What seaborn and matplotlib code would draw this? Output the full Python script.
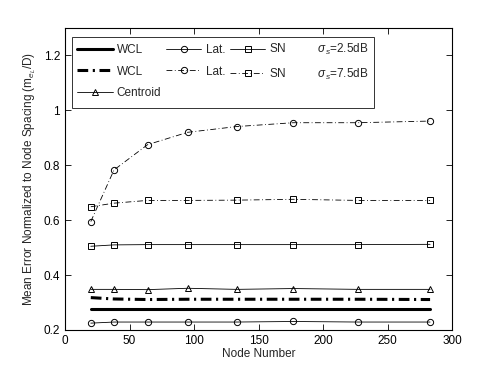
import matplotlib
matplotlib.use("Agg")
import matplotlib.pyplot as plt
from matplotlib.lines import Line2D
import seaborn as sns
import pandas as pd
import numpy as np

nodes = [20, 38, 64, 95, 133, 177, 227, 283]

wcl_25 = [0.275, 0.275, 0.275, 0.275, 0.275, 0.275, 0.275, 0.275]
lat_25 = [0.225, 0.229, 0.229, 0.229, 0.229, 0.231, 0.229, 0.229]
sn_25 = [0.505, 0.510, 0.511, 0.511, 0.511, 0.511, 0.511, 0.512]
wcl_75 = [0.318, 0.313, 0.311, 0.312, 0.312, 0.312, 0.312, 0.311]
lat_75 = [0.595, 0.783, 0.875, 0.920, 0.941, 0.955, 0.955, 0.961]
sn_75 = [0.649, 0.662, 0.672, 0.672, 0.673, 0.676, 0.672, 0.672]
centroid = [0.348, 0.348, 0.347, 0.352, 0.348, 0.351, 0.348, 0.348]

sns.set_style("ticks")
plt.rcParams['font.family'] = ['Liberation Sans', 'DejaVu Sans']
plt.rcParams['mathtext.fontset'] = 'custom'
plt.rcParams['mathtext.rm'] = 'Liberation Sans'
plt.rcParams['mathtext.it'] = 'Liberation Sans:italic'

fig = plt.figure(figsize=(4.98, 3.75), dpi=100)
ax = fig.add_axes([65/498, 45/375, (452-65)/498, (330-28)/375])

dashdot_thin = (0, (7, 3, 1, 3))
dashdot_thick = (0, (3.5, 1.5, 0.7, 1.5))
MS = 4.5

series = [
    ("WCL", wcl_25, '-', None, 2.2),
    ("Lat.", lat_25, '-', 'o', 0.6),
    ("SN", sn_25, '-', 's', 0.6),
    ("WCL ", wcl_75, dashdot_thick, None, 2.2),
    ("Lat. ", lat_75, dashdot_thin, 'o', 0.6),
    ("SN ", sn_75, dashdot_thin, 's', 0.6),
    ("Centroid", centroid, '-', '^', 0.6),
]

handles = {}
for name, vals, ls, mk, lw in series:
    df = pd.DataFrame({"Node Number": nodes, "val": vals})
    sns.lineplot(data=df, x="Node Number", y="val", ax=ax, color='black',
                 linestyle=ls, linewidth=lw, marker=mk, markersize=MS,
                 markerfacecolor='none', markeredgecolor='black',
                 markeredgewidth=0.7, legend=False)
    handles[name] = Line2D([], [], color='black', linestyle=ls, linewidth=lw,
                           marker=mk, markersize=MS, markerfacecolor='none',
                           markeredgecolor='black', markeredgewidth=0.7)

ax.set_xlim(0, 300)
ax.set_ylim(0.2, 1.3)
ax.set_xticks(np.arange(0, 301, 50))
ax.set_yticks([0.2, 0.4, 0.6, 0.8, 1.0, 1.2])
ax.set_yticklabels(['0.2', '0.4', '0.6', '0.8', '1', '1.2'])
ax.tick_params(direction='in', length=4, width=0.6, labelsize=8.5,
               top=True, right=True, colors='black')
for s in ax.spines.values():
    s.set_linewidth(0.8)
    s.set_color('black')
ax.set_xlabel("Node Number", fontsize=8.5, labelpad=1)
ax.set_ylabel(r"Mean Error Normalized to Node Spacing (m$_{e_L}$/D)", fontsize=8.5, labelpad=4)

blank = Line2D([], [], linestyle='none')
gap = " " * 10
hl = [handles["WCL"], handles["WCL "], handles["Centroid"],
      handles["Lat."], handles["Lat. "], blank,
      handles["SN"], handles["SN "], blank]
ll = ["WCL", "WCL", "Centroid",
      "Lat.", "Lat.", "",
      "SN" + gap + r"$\sigma_s$=2.5dB", "SN" + gap + r"$\sigma_s$=7.5dB", ""]
leg = ax.legend(hl, ll, ncol=3, loc='upper left', bbox_to_anchor=(0.018, 0.971),
                fontsize=8.5, frameon=True, fancybox=False, edgecolor='black',
                handlelength=3.0, handletextpad=0.35, columnspacing=0.4,
                labelspacing=0.8, borderpad=0.45, borderaxespad=0)
leg.get_frame().set_linewidth(0.7)

fig.savefig("out.png", dpi=100)
